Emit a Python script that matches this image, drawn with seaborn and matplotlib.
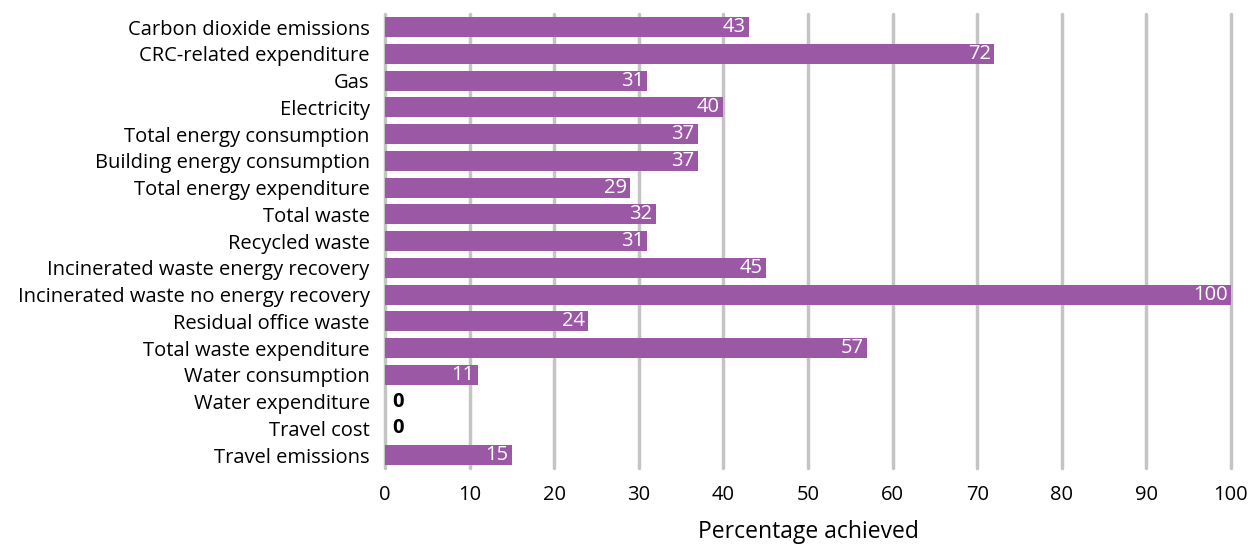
import matplotlib
matplotlib.use("Agg")
import matplotlib.pyplot as plt
import seaborn as sns
import pandas as pd

categories = ["Carbon dioxide emissions", "CRC-related expenditure", "Gas", "Electricity",
              "Total energy consumption", "Building energy consumption", "Total energy expenditure",
              "Total waste", "Recycled waste", "Incinerated waste energy recovery",
              "Incinerated waste no energy recovery", "Residual office waste",
              "Total waste expenditure", "Water consumption", "Water expenditure",
              "Travel cost", "Travel emissions"]
values = [43, 72, 31, 40, 37, 37, 29, 32, 31, 45, 100, 24, 57, 11, 0, 0, 15]
xticks = [0, 10, 20, 30, 40, 50, 60, 70, 80, 90, 100]

sns.set_theme(style="white")
plt.rcParams['font.family'] = ['Open Sans', 'DejaVu Sans']
plt.rcParams['text.color'] = 'black'
plt.rcParams['xtick.color'] = 'black'
plt.rcParams['ytick.color'] = 'black'
plt.rcParams['axes.labelcolor'] = 'black'

df = pd.DataFrame({"cat": categories, "val": values})
fig = plt.figure(figsize=(12.51, 5.47), dpi=100)
ax = fig.add_axes([0.3077, 0.1437, 0.6763, 0.8313])
sns.barplot(data=df, y="cat", x="val", color="#9B59A5", saturation=1, width=0.75, ax=ax,
            zorder=3, linewidth=0)
ax.set_xlim(0, 100)
ax.set_xticks(xticks)
ax.set_xticklabels([str(t) for t in xticks], fontsize=14.5)
ax.tick_params(axis='y', labelsize=14.5, length=0, pad=11)
ax.tick_params(axis='x', length=0, pad=12)
for v in xticks:
    ax.axvline(v, color="#c4c4c4", lw=2.5, zorder=1, clip_on=False)
for s in ax.spines.values():
    s.set_visible(False)
ax.set_ylabel("")
ax.set_xlabel("Percentage achieved", fontsize=16.5, labelpad=10.5)
for i, v in enumerate(values):
    if v > 0:
        ax.text(v - 0.4, i, str(v), color="white", ha="right", va="center", fontsize=14.5, zorder=4)
    else:
        ax.text(v + 0.9, i, str(v), color="black", ha="left", va="center", fontsize=14.5,
                fontweight="bold", zorder=4)
fig.savefig("out.png", dpi=100)
